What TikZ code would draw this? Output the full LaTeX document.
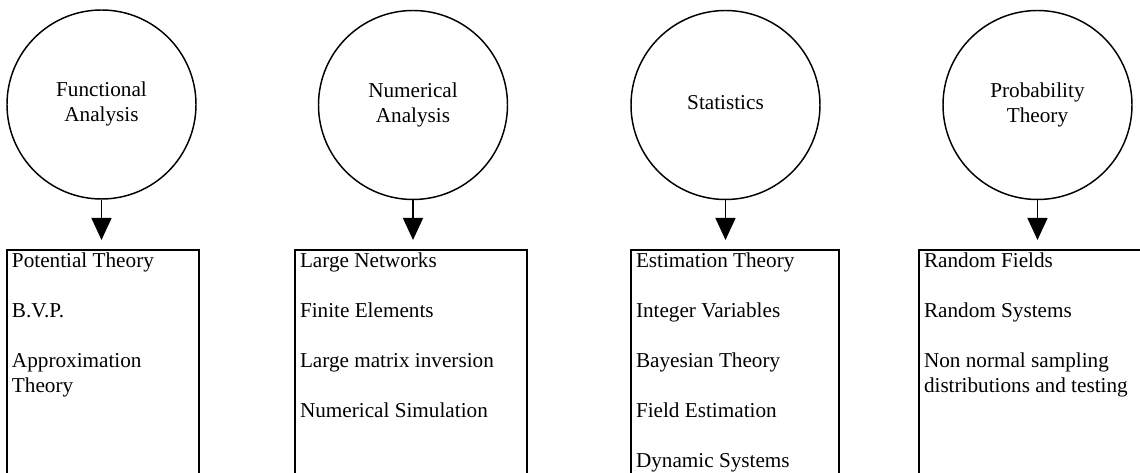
\documentclass[tikz,border=0pt]{standalone}
\usepackage{fontspec}
\setmainfont{Liberation Serif}
\usetikzlibrary{arrows.meta}
\newcommand{\boxlist}[2]{\parbox[t][180pt][t]{#1}{\raggedright\strut #2}}
\newcommand{\arealabel}[1]{\raisebox{4.5pt}{\begin{tabular}{@{}c@{}}#1\end{tabular}}}

\begin{document}
\begin{tikzpicture}[
 x=0.75pt,y=-0.75pt,
 font=\fontsize{15.9pt}{18.75pt}\selectfont,
 area/.style={draw,circle,line width=1.1pt,minimum size=141.75pt,inner sep=0pt},
 topics/.style={draw,line width=1.1pt,anchor=north west,inner xsep=3.75pt,inner ysep=0pt,outer sep=0pt},
 edge/.style={line width=1.1pt},
 arr/.style={-{Triangle[length=16.5pt,width=15pt]},line width=1.1pt,shorten >=7.5pt}]
\useasboundingbox (0,0) rectangle (1140,473);
\node[area] (fa) at (101.5,104.5) {\arealabel{Functional\\Analysis}};
\node[area] (na) at (413,105) {\arealabel{Numerical\\Analysis}};
\node[area] (st) at (725.5,105) {\arealabel{Statistics}};
\node[area] (pt) at (1037.5,105) {\arealabel{Probability\\Theory}};
\node[topics] (fabox) at (7,250) {\boxlist{136.5pt}{Potential Theory\\[\baselineskip]B.V.P.\\[\baselineskip]Approximation\\Theory}};
\node[topics] (nabox) at (295,250) {\boxlist{166.5pt}{Large Networks\\[\baselineskip]Finite Elements\\[\baselineskip]Large matrix inversion\\[\baselineskip]Numerical Simulation}};
\node[topics] (stbox) at (631,250) {\boxlist{148.5pt}{Estimation Theory\\[\baselineskip]Integer Variables\\[\baselineskip]Bayesian Theory\\[\baselineskip]Field Estimation\\[\baselineskip]Dynamic Systems}};
% last box runs off the page on the right
\node[topics,draw=none] (ptbox) at (919,250) {\boxlist{200pt}{Random Fields\\[\baselineskip]Random Systems\\[\baselineskip]Non normal sampling\\distributions and testing}};
\coordinate (ptend) at (1141,250);
\coordinate (ptfoot) at (919,474);
\draw[edge] (ptend) -- (ptbox.north west) -- (ptfoot);
\draw[arr] (fa.south) -- (fa.south |- fabox.north);
\draw[arr] (na.south) -- (na.south |- nabox.north);
\draw[arr] (st.south) -- (st.south |- stbox.north);
\draw[arr] (pt.south) -- (pt.south |- ptbox.north);
\end{tikzpicture}
\end{document}
